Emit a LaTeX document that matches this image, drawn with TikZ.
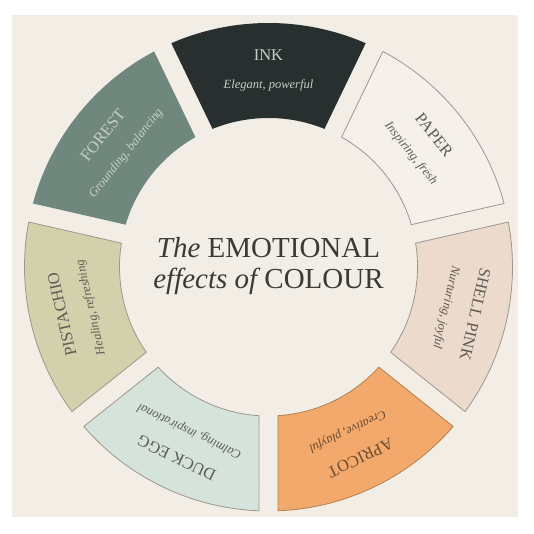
\documentclass[tikz,border=0pt]{standalone}
\usepackage{fontspec}
\setmainfont{Liberation Serif}
\definecolor{bgcream}{HTML}{F2EEE6}
\definecolor{inkfill}{HTML}{282F2F}
\definecolor{paperfill}{HTML}{F5F1EA}
\definecolor{pinkfill}{HTML}{ECDACC}
\definecolor{apricotfill}{HTML}{F2A96B}
\definecolor{duckfill}{HTML}{D6E3DA}
\definecolor{pistafill}{HTML}{D3D1AB}
\definecolor{forestfill}{HTML}{6F877D}
\definecolor{greyline}{HTML}{9C978E}
\definecolor{apricotline}{HTML}{B3814F}
\definecolor{darktext}{HTML}{3A3A38}
\definecolor{softtext}{HTML}{5E5A54}
\definecolor{lighttext}{HTML}{C8CDC9}
\definecolor{browntext}{HTML}{6A4B33}
\usepackage{tikz}

\begin{document}
\begin{tikzpicture}[x=1pt, y=1pt]
    \useasboundingbox (-268.5,-267) rectangle (264.5,267);
    \fill[bgcream] (-256.5,-250) rectangle (249.5,252);
    % ring of colour segments, clockwise from the top
    \foreach \c/\nm/\tg/\fc/\dc/\tc [count=\i] in {
        90/INK/{Elegant, powerful}/inkfill/none/lighttext,
        38.571/PAPER/{Inspiring, fresh}/paperfill/greyline/softtext,
        -12.857/SHELL PINK/{Nurturing, joyful}/pinkfill/greyline/softtext,
        -64.286/APRICOT/{Creative, playful}/apricotfill/apricotline/browntext,
        -115.714/DUCK EGG/{Calming, inspirational}/duckfill/greyline/softtext,
        -167.143/PISTACHIO/{Healing, refreshing}/pistafill/greyline/softtext,
        141.429/FOREST/{Grounding, balancing}/forestfill/none/lighttext} {
        \draw[fill=\fc, draw=\dc, line width=0.8pt, line join=round]
            (\c-23.48:244pt) arc[start angle=\c-23.48, end angle=\c+23.48, radius=244pt]
            -- (\c+22.06:149pt) arc[start angle=\c+22.06, end angle=\c-22.06, radius=149pt]
            -- cycle;
        \node[text=\tc, rotate=\c-90, inner sep=1pt, font=\fontsize{16.5}{18}\selectfont] (name-\i) at (\c:212pt) {\nm};
        \node[text=\tc, rotate=\c-90, inner sep=1pt, font=\fontsize{12.5}{14}\selectfont\itshape] (tag-\i) at (\c:182pt) {\tg};
    }
    \node[text=darktext, align=center, font=\fontsize{29}{31}\selectfont] (title) at (0,1) {{\itshape The} EMOTIONAL\\{\itshape effects of} COLOUR};
\end{tikzpicture}
\end{document}
